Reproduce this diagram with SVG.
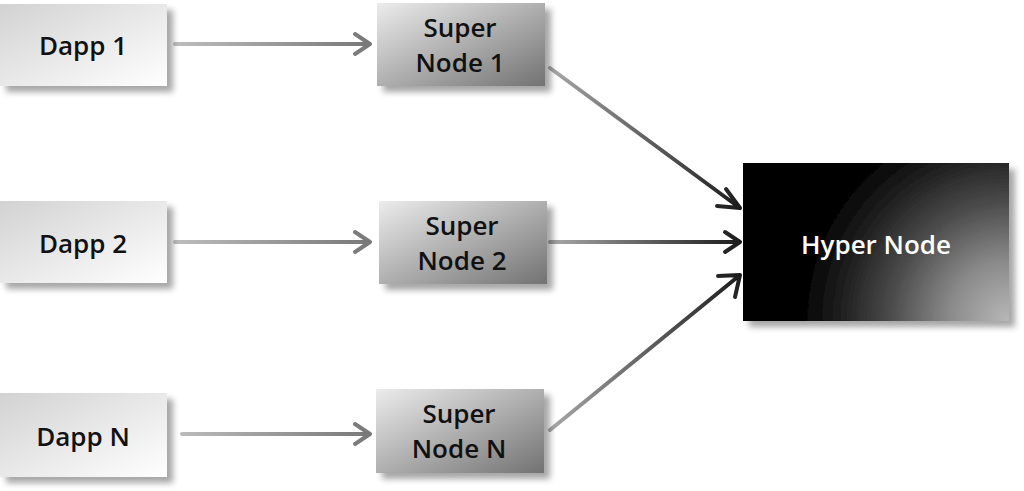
<svg xmlns="http://www.w3.org/2000/svg" width="1024" height="491" viewBox="0 0 1024 491">
<defs>
<filter id="sh" x="-20%" y="-20%" width="150%" height="160%">
<feGaussianBlur in="SourceAlpha" stdDeviation="3"/>
<feOffset dx="6" dy="6" result="b"/>
<feComponentTransfer><feFuncA type="linear" slope="0.35"/></feComponentTransfer>
<feMerge><feMergeNode/><feMergeNode in="SourceGraphic"/></feMerge>
</filter>
<linearGradient id="gDapp" x1="0" y1="0" x2="1" y2="1">
<stop offset="0" stop-color="#d2d2d2"/><stop offset="1" stop-color="#ffffff"/>
</linearGradient>
<linearGradient id="gSuper" x1="0" y1="0" x2="1" y2="1">
<stop offset="0" stop-color="#ececec"/><stop offset="1" stop-color="#727272"/>
</linearGradient>
<radialGradient id="gHyper" gradientUnits="userSpaceOnUse" cx="1009" cy="321" r="300" fx="1009" fy="321">
<stop offset="0" stop-color="#b8b8b8"/><stop offset="0.2" stop-color="#8a8a8a"/><stop offset="0.4" stop-color="#4a4a4a"/><stop offset="0.55" stop-color="#222"/><stop offset="0.7" stop-color="#000"/><stop offset="1" stop-color="#000"/>
</radialGradient>
<linearGradient id="gA1" gradientUnits="userSpaceOnUse" x1="175" y1="0" x2="372" y2="0">
<stop offset="0" stop-color="#bdbdbd"/><stop offset="1" stop-color="#777"/>
</linearGradient>
<linearGradient id="gB1" gradientUnits="userSpaceOnUse" x1="550" y1="68" x2="742" y2="210">
<stop offset="0" stop-color="#a8a8a8"/><stop offset="1" stop-color="#1a1a1a"/>
</linearGradient>
<linearGradient id="gB2" gradientUnits="userSpaceOnUse" x1="550" y1="0" x2="742" y2="0">
<stop offset="0" stop-color="#a8a8a8"/><stop offset="1" stop-color="#1a1a1a"/>
</linearGradient>
<linearGradient id="gB3" gradientUnits="userSpaceOnUse" x1="550" y1="430" x2="742" y2="272">
<stop offset="0" stop-color="#a8a8a8"/><stop offset="1" stop-color="#1a1a1a"/>
</linearGradient>
</defs>
<style>
.t{font-family:"Open Sans",Lato,sans-serif;font-weight:600;font-size:26px;text-anchor:middle;fill:#111}
.w{fill:#fff}
.ln{fill:none;stroke-width:4;stroke-linecap:round;stroke-linejoin:round}
</style>
<rect width="1024" height="491" fill="#fff"/>
<g id="connectors">
<path class="ln" stroke="url(#gA1)" d="M175 44H370M355 34L370 44L355 54"/>
<path class="ln" stroke="url(#gA1)" d="M175 242H370M355 232L370 242L355 252"/>
<path class="ln" stroke="url(#gA1)" d="M182 434H370M355 424L370 434L355 444"/>
<path class="ln" stroke="url(#gB1)" d="M550 68L740 208M726 189L740 208L717 206"/>
<path class="ln" stroke="url(#gB2)" d="M550 242H740M725 232L740 242L725 252"/>
<path class="ln" stroke="url(#gB3)" d="M550 430L740 275M718 276L740 275L735 297"/>
</g>
<g id="dapp1"><rect x="0" y="4" width="167" height="82" fill="url(#gDapp)" filter="url(#sh)"/>
<text class="t" x="83" y="55">Dapp 1</text></g>
<g id="dapp2"><rect x="0" y="201" width="167" height="82" fill="url(#gDapp)" filter="url(#sh)"/>
<text class="t" x="83" y="253">Dapp 2</text></g>
<g id="dappN"><rect x="0" y="393" width="167" height="84" fill="url(#gDapp)" filter="url(#sh)"/>
<text class="t" x="83" y="446">Dapp N</text></g>
<g id="super1"><rect x="377" y="3" width="168" height="83" fill="url(#gSuper)" filter="url(#sh)"/>
<text class="t" x="460" y="37">Super</text><text class="t" x="460" y="72">Node 1</text></g>
<g id="super2"><rect x="379" y="201" width="168" height="83" fill="url(#gSuper)" filter="url(#sh)"/>
<text class="t" x="462" y="235">Super</text><text class="t" x="462" y="270">Node 2</text></g>
<g id="superN"><rect x="376" y="389" width="168" height="84" fill="url(#gSuper)" filter="url(#sh)"/>
<text class="t" x="459" y="423">Super</text><text class="t" x="459" y="458">Node N</text></g>
<g id="hyper"><rect x="743" y="163" width="266" height="158" fill="url(#gHyper)" filter="url(#sh)"/>
<text class="t w" x="876" y="254">Hyper Node</text></g>
</svg>
